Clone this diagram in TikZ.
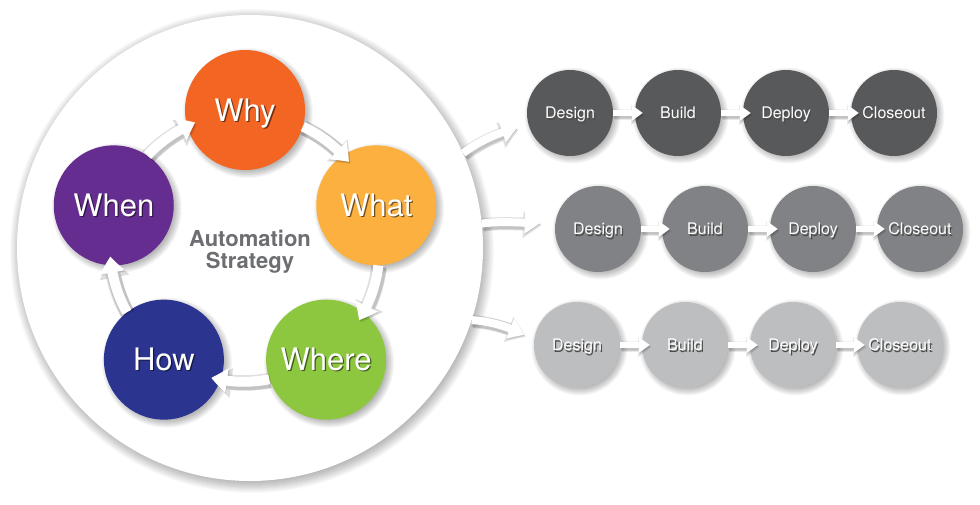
\documentclass[tikz,border=0pt]{standalone}
\usepackage{fontspec}
\setmainfont{TeX Gyre Heros}
\usetikzlibrary{arrows.meta,bending,calc}
\definecolor{cwhy}{HTML}{F26522}
\definecolor{cwhat}{HTML}{FBB040}
\definecolor{cwhere}{HTML}{8DC63F}
\definecolor{chow}{HTML}{2B3590}
\definecolor{cwhen}{HTML}{662D91}
\definecolor{rowa}{HTML}{58595B}
\definecolor{rowb}{HTML}{808285}
\definecolor{rowc}{HTML}{BCBEC0}
\definecolor{stratgray}{HTML}{6D6E71}
\newcommand\shtxt[2]{\makebox[0pt][l]{\hspace{1.3pt}\raisebox{-1.3pt}{\textcolor{#1}{#2}}}\textcolor{white}{#2}}
\newcommand\dshadow[3]{\foreach \k in {1,...,9}{\fill[black,opacity=0.035] ($(#1)+(#3,#3)$) circle[radius=#2-4+\k];}}
% #1 shadow style, #2 main style, #3 path
\newcommand\sharrow[3]{%
  \begin{scope}[transparency group, opacity=0.13, transform canvas={shift={(1.5pt,-2pt)}}]
    \draw[#1, black] #3;
  \end{scope}
  \begin{scope}[transparency group, opacity=0.12, transform canvas={shift={(0.5pt,-1pt)}}]
    \draw[#2, black, line width=1.5\pgflinewidth] #3;
  \end{scope}
  \draw[#2, white] #3;}
\begin{document}
\begin{tikzpicture}[x=1pt,y=-1pt,
  bigdisc/.style={circle, fill=white, minimum size=466pt, inner sep=0pt},
  petal/.style={circle, minimum size=120pt, inner sep=0pt, text height=22pt, text depth=0pt, font=\fontsize{31pt}{31pt}\selectfont},
  stage/.style={circle, minimum size=86pt, inner sep=0pt, text height=11.5pt, text depth=0pt, font=\fontsize{16pt}{16pt}\selectfont},
  ringar/.style={line width=10pt, -{Triangle[width=24pt,length=16pt,bend]}},
  ringsh/.style={line width=14pt, -{Triangle[width=29pt,length=19pt,bend]}},
  connar/.style={line width=8pt, -{Triangle[width=21pt,length=15pt,bend]}},
  connsh/.style={line width=12pt, -{Triangle[width=26pt,length=18pt,bend]}},
  rowar/.style={line width=6pt, -{Triangle[width=15pt,length=11pt]}},
  rowsh/.style={line width=9pt, -{Triangle[width=19pt,length=13pt]}}]
\useasboundingbox (0,0) rectangle (980,504);
\fill[white] (0,0) rectangle (980,504);
% big circle shadow and disc
\foreach \k in {1,...,14}{\fill[black,opacity=0.022] (252,251) circle[radius=228+\k];}
\node[bigdisc] (big) at (250,248) {};
% centres
\coordinate (C) at (245,248);
\coordinate (pwhy) at ($(C)+(-90:138)$);
\coordinate (pwhat) at ($(C)+(-18:138)$);
\coordinate (pwhere) at ($(C)+(54:138)$);
\coordinate (phow) at ($(C)+(126:138)$);
\coordinate (pwhen) at ($(C)+(198:138)$);
\coordinate (a1) at (570,113); \coordinate (a2) at (678,113); \coordinate (a3) at (786,113); \coordinate (a4) at (894,113);
\coordinate (b1) at (598,229); \coordinate (b2) at (705,229); \coordinate (b3) at (813,229); \coordinate (b4) at (920,229);
\coordinate (c1) at (577,345); \coordinate (c2) at (685,345); \coordinate (c3) at (793,345); \coordinate (c4) at (900,345);
% connectors from the big circle to the rows
\coordinate (t1) at ($(a1)+(-53,15)$);
\coordinate (t2) at ($(b1)+(-58,-6)$);
\coordinate (t3) at ($(c1)+(-53,-10)$);
\sharrow{connsh}{connar}{(big.24) .. controls +(16,-12) and +(-18,4) .. (t1)}
\sharrow{connsh}{connar}{(big.6) .. controls +(18,-3) and +(-18,0) .. (t2)}
\sharrow{connsh}{connar}{(big.-18) .. controls +(18,1) and +(-14,-8) .. (t3)}
% shadows
\foreach \p in {pwhy,pwhat,pwhere,phow,pwhen}{\dshadow{\p}{60}{3}}
\foreach \p in {a1,a2,a3,a4,b1,b2,b3,b4,c1,c2,c3,c4}{\dshadow{\p}{43}{2.5}}
% petals
\node[petal, fill=cwhy] (why) at (pwhy) {\shtxt{cwhy!45!black}{Why}};
\node[petal, fill=cwhat] (what) at (pwhat) {\shtxt{cwhat!45!black}{What}};
\node[petal, fill=cwhere] (where) at (pwhere) {\shtxt{cwhere!45!black}{Where}};
\node[petal, fill=chow] (how) at (phow) {\shtxt{chow!45!black}{How}};
\node[petal, fill=cwhen] (when) at (pwhen) {\shtxt{cwhen!45!black}{When}};
\node[align=center, text=stratgray, font=\bfseries\fontsize{22pt}{22pt}\selectfont] (strat) at (250,252) {Automation\\Strategy};
% ring arrows
\sharrow{ringsh}{ringar}{(why.-16) arc[start angle=-65, end angle=-40, radius=134]}
\sharrow{ringsh}{ringar}{(what.-88) arc[start angle=7, end angle=32, radius=134]}
\sharrow{ringsh}{ringar}{(where.199) arc[start angle=79, end angle=104, radius=134]}
\sharrow{ringsh}{ringar}{(how.128) arc[start angle=151, end angle=176, radius=134]}
\sharrow{ringsh}{ringar}{(when.56) arc[start angle=223, end angle=248, radius=134]}
% stage rows
\foreach \r/\col in {a/rowa,b/rowb,c/rowc}{
  \node[stage, fill=\col] (\r d1) at (\r1) {\shtxt{black!70}{Design}};
  \node[stage, fill=\col] (\r d2) at (\r2) {\shtxt{black!70}{Build}};
  \node[stage, fill=\col] (\r d3) at (\r3) {\shtxt{black!70}{Deploy}};
  \node[stage, fill=\col] (\r d4) at (\r4) {\shtxt{black!70}{Closeout}};
  \sharrow{rowsh}{rowar}{(\r d1.east) -- ([xshift=8pt]\r d2.west)}
  \sharrow{rowsh}{rowar}{(\r d2.east) -- ([xshift=8pt]\r d3.west)}
  \sharrow{rowsh}{rowar}{(\r d3.east) -- ([xshift=8pt]\r d4.west)}
}
\end{tikzpicture}
\end{document}
